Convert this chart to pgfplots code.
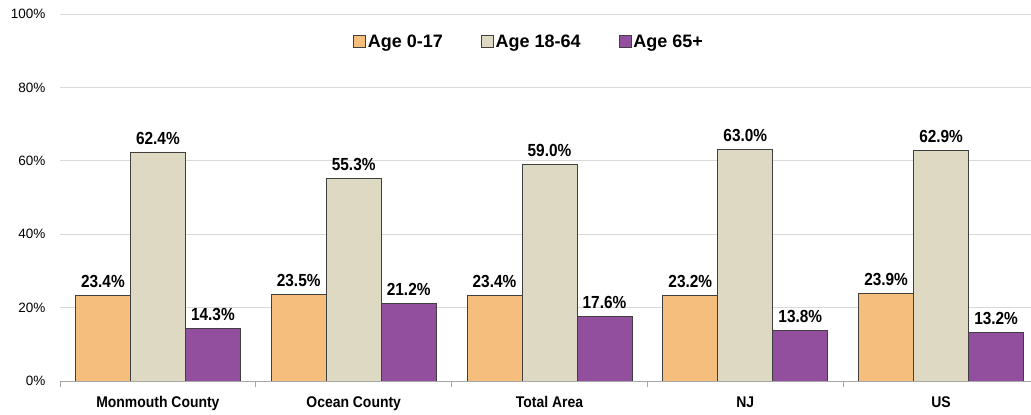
\documentclass[border=0pt]{standalone}
\usepackage{fontspec}
\setmainfont{Liberation Sans}
\usepackage{pgfplots}
\pgfplotsset{compat=1.18}
\definecolor{c1}{HTML}{F5BE7D}
\definecolor{c2}{HTML}{DDD9C3}
\definecolor{c3}{HTML}{914F9D}
\definecolor{gridc}{HTML}{D9D9D9}
\definecolor{axc}{HTML}{A6A6A6}
\definecolor{edge}{HTML}{3F3F3F}
\newcommand{\nw}[1]{\scalebox{0.9}[1]{#1}}
\begin{document}
\begin{tikzpicture}
\begin{axis}[
  at={(0pt,0pt)}, anchor=south west,
  scale only axis, width=979pt, height=367pt,
  ymin=0, ymax=100, xmin=-0.5, xmax=4.5,
  ybar=0pt, bar width=55pt,
  axis lines*=left,
  x axis line style={axc, line width=0.8pt},
  y axis line style={draw=none},
  ytick={0,20,40,60,80,100},
  yticklabel={\pgfmathprintnumber[assume math mode=true]{\tick}\%},
  yticklabel style={font=\fontsize{13.5}{16}\selectfont, xshift=-11pt},
  ytick style={draw=none},
  ymajorgrids, grid style={gridc, line width=0.8pt},
  xtick={-0.5,0.5,1.5,2.5,3.5,4.5},
  x tick label as interval,
  xticklabels={\nw{Monmouth County}, \nw{Ocean County}, \nw{Total Area}, \nw{NJ}, \nw{US}},
  xticklabel style={font=\bfseries\fontsize{15.5}{18}\selectfont, yshift=-6pt},
  xtick align=outside, major tick length=6pt,
  xtick style={axc, line width=0.8pt},
  every axis plot/.append style={draw=edge, line width=0.8pt},
  nodes near coords={\scalebox{0.88}[1]{\pgfmathprintnumber[fixed,fixed zerofill,precision=1,assume math mode=true]{\pgfplotspointmeta}\%}},
  nodes near coords style={font=\bfseries\fontsize{17.5}{20}\selectfont, anchor=south, yshift=4pt, text=black},
  legend style={at={(0.296,0.924)}, anchor=west, legend columns=3, draw=none, fill=none,
    font=\bfseries\fontsize{18}{21}\selectfont,
    /tikz/every even column/.append style={column sep=36pt}},
  legend image code/.code={\draw[#1, draw=edge, line width=0.8pt] (0pt,-6pt) rectangle (12pt,6pt);},
]
\addplot[fill=c1] coordinates {(0,23.4) (1,23.5) (2,23.4) (3,23.2) (4,23.9)};
\addplot[fill=c2] coordinates {(0,62.4) (1,55.3) (2,59.0) (3,63.0) (4,62.9)};
\addplot[fill=c3] coordinates {(0,14.3) (1,21.2) (2,17.6) (3,13.8) (4,13.2)};
\legend{Age 0-17, Age 18-64, Age 65+}
\end{axis}
\pgfresetboundingbox
\path[use as bounding box] (-60pt,-34pt) rectangle (971pt,381pt);
\end{tikzpicture}
\end{document}
